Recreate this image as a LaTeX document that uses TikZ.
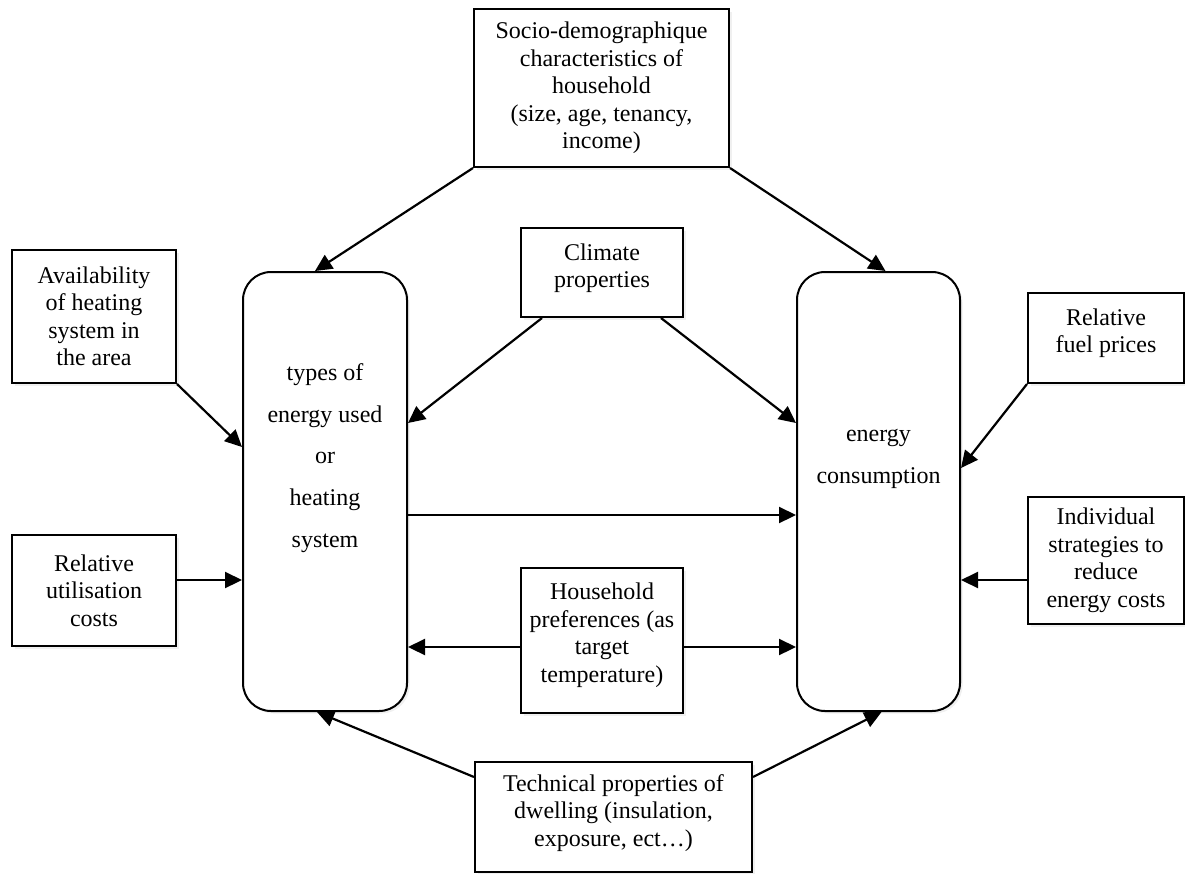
\documentclass[tikz,border=0pt]{standalone}
\usepackage{fontspec}
\setmainfont{Liberation Serif}
\usetikzlibrary{arrows.meta,shadows}
\begin{document}
\begin{tikzpicture}[x=1pt,y=-1pt,
  every node/.style={font=\fontsize{24}{27.5}\selectfont, align=center, inner sep=0pt},
  box/.style={draw, line width=2pt, fill=white, rectangle,
    drop shadow={opacity=0.12, shadow xshift=2.5pt, shadow yshift=-2.5pt}},
  bigbox/.style={draw, line width=2pt, fill=white, rectangle, rounded corners=28pt,
    drop shadow={opacity=0.12, shadow xshift=2.5pt, shadow yshift=-2.5pt}},
  arr/.style={line width=2.2pt, -{Triangle[length=17pt,width=16pt]}},
  bigtext/.style={font=\fontsize{24}{41.7}\selectfont}
]
\useasboundingbox (0,0) rectangle (1185,873);
% boxes
\node[box, minimum width=255pt, minimum height=158pt] (socio) at (601.5,88)
  {Socio-demographique\\characteristics of\\household\\(size, age, tenancy,\\income)};
\node[box, minimum width=164pt, minimum height=133pt] (avail) at (94,316.5)
  {Availability\\of heating\\system in\\the area};
\node[box, minimum width=164pt, minimum height=111pt] (util) at (94,590.5)
  {Relative\\utilisation\\costs};
\node[box, minimum width=162pt, minimum height=89pt] (climate) at (602,272.5) {};
\node (climateT) at (602,268) {Climate\\properties};
\node[bigbox, minimum width=164pt, minimum height=439pt] (types) at (325,491.5) {};
\node[bigtext] (typesT) at (325,458) {types of\\energy used\\or\\heating\\system};
\node[bigbox, minimum width=163pt, minimum height=439pt] (cons) at (878.5,491.5) {};
\node[bigtext] (consT) at (878.5,459) {energy\\consumption};
\node[box, minimum width=156pt, minimum height=90pt] (fuel) at (1106,338) {};
\node (fuelT) at (1106,333) {Relative\\fuel prices};
\node[box, minimum width=156pt, minimum height=127pt] (indiv) at (1106,560.5)
  {Individual\\strategies to\\reduce\\energy costs};
\node[box, minimum width=162pt, minimum height=145pt] (pref) at (602,640.5) {};
\node (prefT) at (602,635) {Household\\preferences (as\\target\\temperature)};
\node[box, minimum width=277pt, minimum height=110pt] (tech) at (613.5,817) {};
\node (techT) at (613.5,813) {Technical properties of\\dwelling (insulation,\\exposure, ect\ldots)};
% connectors
\draw[arr] (socio.south west) -- ([xshift=-10pt]types.north);
\draw[arr] (socio.south east) -- ([xshift=7pt]cons.north);
\draw[arr] (avail.south east) -- ([yshift=44.5pt]types.west);
\draw[arr] ([yshift=10.5pt]util.east) -- ([yshift=-88.5pt]types.west);
\draw[arr] ([xshift=22pt]climate.south west) -- ([yshift=68.5pt]types.east);
\draw[arr] ([xshift=-23pt]climate.south east) -- ([yshift=68.5pt]cons.west);
\draw[arr] ([yshift=-23.5pt]types.east) -- ([yshift=-23.5pt]cons.west);
\draw[arr] ([yshift=-6.5pt]pref.west) -- ([yshift=-155.5pt]types.east);
\draw[arr] ([yshift=-6.5pt]pref.east) -- ([yshift=-155.5pt]cons.west);
\draw[arr] (fuel.south west) -- ([yshift=23.5pt]cons.east);
\draw[arr] ([yshift=-19.5pt]indiv.west) -- ([yshift=-88.5pt]cons.east);
\draw[arr] ([yshift=40pt]tech.west) -- ([xshift=-8pt]types.south);
\draw[arr] ([yshift=40pt]tech.east) -- ([xshift=3pt]cons.south);
\end{tikzpicture}
\end{document}
